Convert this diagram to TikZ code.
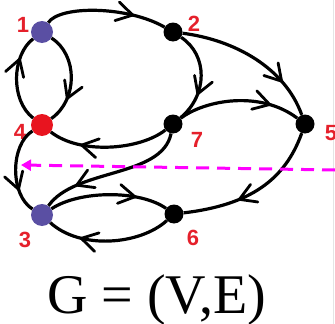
\documentclass[tikz,border=0pt]{standalone}
\usepackage{fontspec}
\setmainfont{Liberation Serif}
\newfontfamily\lblfont{Liberation Sans}
\usetikzlibrary{decorations.markings,arrows.meta}
\definecolor{vblue}{HTML}{5A4FA3}
\definecolor{vred}{HTML}{E8141F}
\definecolor{lblred}{HTML}{E5202B}
\definecolor{dmag}{HTML}{FF00FF}
\tikzset{
  vtx/.style={circle, inner sep=0pt, minimum size=#1},
  dedge/.style={line width=3.2pt, postaction={decorate},
    decoration={markings, mark=at position #1 with {\draw[line width=2.8pt, line cap=round, line join=miter] (-16pt,9.5pt) -- (0pt,0pt) -- (-16pt,-9.5pt);}}},
  lbl/.style={text=lblred, font=\lblfont\bfseries\fontsize{22}{22}\selectfont},
  cut/.style={dmag, line width=3pt, dash pattern=on 13pt off 8pt, -{Triangle[length=10pt,width=11pt]}}
}
\begin{document}
\begin{tikzpicture}[x=1pt, y=-1pt]
\useasboundingbox (0,0) rectangle (335,324);
\draw[color=black!10, line width=1pt] (333.5,0) -- (333.5,324);
% vertices
\node[vtx=22pt, fill=vblue] (n1) at (42,32) {};
\node[vtx=19pt, fill=black] (n2) at (173,32) {};
\node[vtx=22pt, fill=vblue] (n3) at (42,215) {};
\node[vtx=22pt, fill=vred] (n4) at (42,125) {};
\node[vtx=19pt, fill=black] (n5) at (305,124) {};
\node[vtx=19pt, fill=black] (n6) at (174,214) {};
\node[vtx=19pt, fill=black] (n7) at (173,124) {};
% labels
\node[lbl] (l1) at (23,25) {1};
\node[lbl] (l2) at (194,24) {2};
\node[lbl] (l3) at (25,240) {3};
\node[lbl] (l4) at (20,132) {4};
\node[lbl] (l5) at (331,133) {5};
\node[lbl] (l6) at (193,238) {6};
\node[lbl] (l7) at (197,140) {7};
% edges
\draw[dedge=0.72] (n1) .. controls (60,5) and (128,6) .. (n2);
\draw[dedge=0.74] (n2) .. controls (235,40) and (285,68) .. (n5);
\draw[dedge=0.68] (n2) .. controls (208,55) and (208,95) .. (n7);
\draw[dedge=0.75] (n7) .. controls (205,100) and (260,90) .. (n5);
\draw[dedge=0.72] (n1) .. controls (78,55) and (78,100) .. (n4);
\draw[dedge=0.72] (n4) .. controls (10,100) and (12,55) .. (n1);
\draw[dedge=0.72] (n7) .. controls (140,150) and (80,155) .. (n4);
\draw[dedge=0.72] (n4) .. controls (10,145) and (10,195) .. (n3);
\draw[dedge=0.76] (n7) .. controls (162,178) and (75,168) .. (n3);
\draw[dedge=0.72] (n3) .. controls (80,190) and (140,190) .. (n6);
\draw[dedge=0.72] (n6) .. controls (140,245) and (80,250) .. (n3);
\draw[dedge=0.62] (n5) .. controls (285,180) and (250,205) .. (n6);
% cut line
\coordinate (dR) at (335,170);
\coordinate (dL) at (21,165);
\draw[cut] (dR) -- (dL);
% title
\node[anchor=base, font=\fontsize{56}{56}\selectfont, inner sep=0pt] (title) at (156.5,313) {G = (V,E)};
\end{tikzpicture}
\end{document}
